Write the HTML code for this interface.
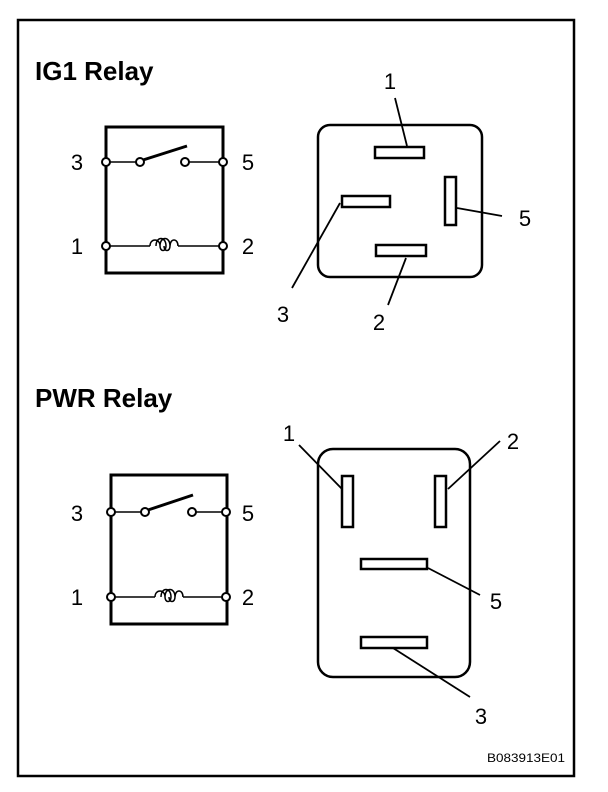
<!DOCTYPE html>
<html><head><meta charset="utf-8"><style>
html,body{margin:0;padding:0;background:#fff;}
svg{display:block;}
text{font-family:"Liberation Sans",Arial,sans-serif;fill:#000;}
</style></head><body>
<svg width="608" height="792" viewBox="0 0 608 792" xmlns="http://www.w3.org/2000/svg">
<rect x="18" y="20" width="556" height="756" fill="none" stroke="#000" stroke-width="2.5"/>
<text x="35" y="80" font-size="26" font-weight="bold">IG1 Relay</text>
<text x="35" y="407" font-size="26" font-weight="bold">PWR Relay</text>
<text x="487" y="762" font-size="12" textLength="78" lengthAdjust="spacingAndGlyphs">B083913E01</text>

<g stroke="#000" fill="none">
<!-- IG1 schematic -->
<rect x="106" y="127" width="117" height="146" stroke-width="3"/>
<line x1="106" y1="162" x2="140" y2="162" stroke-width="1.5"/>
<line x1="143" y1="160" x2="187" y2="146" stroke-width="3"/>
<line x1="185" y1="162" x2="223" y2="162" stroke-width="1.5"/>
<line x1="106" y1="246" x2="150" y2="246" stroke-width="1.5"/>
<line x1="178" y1="246" x2="223" y2="246" stroke-width="1.5"/>
<path d="M150 246 C150 238 160 238 160 246 M156 246 C156 236 166 236 166 246 C166 252 160 252 160 246 C160 236 170 236 170 246 C170 252 164 252 164 246 M170 246 C170 238 178 238 178 246" stroke-width="1.5"/>
<g fill="#fff" stroke-width="2">
<circle cx="106" cy="162" r="4"/><circle cx="140" cy="162" r="4"/><circle cx="185" cy="162" r="4"/><circle cx="223" cy="162" r="4"/>
<circle cx="106" cy="246" r="4"/><circle cx="223" cy="246" r="4"/>
</g>
<!-- PWR schematic -->
<rect x="111" y="475" width="116" height="149" stroke-width="3"/>
<line x1="111" y1="512" x2="145" y2="512" stroke-width="1.5"/>
<line x1="148" y1="510" x2="193" y2="495" stroke-width="3"/>
<line x1="192" y1="512" x2="226" y2="512" stroke-width="1.5"/>
<line x1="111" y1="597" x2="155" y2="597" stroke-width="1.5"/>
<line x1="183" y1="597" x2="226" y2="597" stroke-width="1.5"/>
<path d="M155 597 C155 589 165 589 165 597 M161 597 C161 587 171 587 171 597 C171 603 165 603 165 597 C165 587 175 587 175 597 C175 603 169 603 169 597 M175 597 C175 589 183 589 183 597" stroke-width="1.5"/>
<g fill="#fff" stroke-width="2">
<circle cx="111" cy="512" r="4"/><circle cx="145" cy="512" r="4"/><circle cx="192" cy="512" r="4"/><circle cx="226" cy="512" r="4"/>
<circle cx="111" cy="597" r="4"/><circle cx="226" cy="597" r="4"/>
</g>

<!-- IG1 connector -->
<rect x="318" y="125" width="164" height="152" rx="12" stroke-width="2.5"/>
<g stroke-width="2.5">
<rect x="375" y="147" width="49" height="11"/>
<rect x="445" y="177" width="11" height="48"/>
<rect x="342" y="196" width="48" height="11"/>
<rect x="376" y="245" width="50" height="11"/>
</g>
<g stroke-width="1.8">
<line x1="395" y1="98" x2="407" y2="146"/>
<line x1="457" y1="208" x2="502" y2="216"/>
<line x1="340" y1="203" x2="292" y2="288"/>
<line x1="406" y1="258" x2="388" y2="305"/>
</g>

<!-- PWR connector -->
<rect x="318" y="449" width="152" height="228" rx="15" stroke-width="2.5"/>
<g stroke-width="2.5">
<rect x="342" y="476" width="11" height="51"/>
<rect x="435" y="476" width="11" height="51"/>
<rect x="361" y="559" width="66" height="10"/>
<rect x="361" y="637" width="66" height="11"/>
</g>
<g stroke-width="1.8">
<line x1="299" y1="445" x2="342" y2="489"/>
<line x1="500" y1="441" x2="448" y2="489"/>
<line x1="428" y1="568" x2="480" y2="595"/>
<line x1="393" y1="648" x2="470" y2="697"/>
</g>
</g>

<g font-size="22" text-anchor="middle">
<text x="77" y="170">3</text><text x="248" y="170">5</text>
<text x="77" y="254">1</text><text x="248" y="254">2</text>
<text x="77" y="521">3</text><text x="248" y="521">5</text>
<text x="77" y="605">1</text><text x="248" y="605">2</text>
<text x="390" y="89">1</text><text x="525" y="226">5</text>
<text x="283" y="322">3</text><text x="379" y="330">2</text>
<text x="289" y="441">1</text><text x="513" y="449">2</text>
<text x="496" y="609">5</text><text x="481" y="724">3</text>
</g>
</svg>
</body></html>
